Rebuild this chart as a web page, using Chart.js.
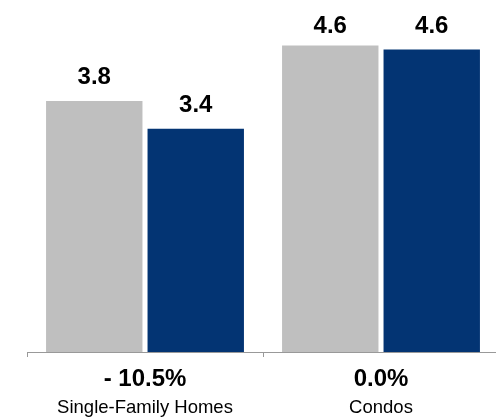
<!DOCTYPE html>
<html>
<head>
<meta charset="utf-8">
<script src="https://cdn.jsdelivr.net/npm/chart.js@4.4.1/dist/chart.umd.min.js"></script>
<style>
  html, body { margin: 0; padding: 0; background: #fff; overflow: hidden; }
  #wrap { width: 499px; height: 417px; }
</style>
</head>
<body>
<div id="wrap"><canvas id="chart"></canvas></div>
<script>
const categories = ['Single-Family Homes', 'Condos'];
const changeLabels = ['- 10.5%', '0.0%'];
const priorValues = [3.8, 4.64];
const currentValues = [3.38, 4.58];

// draws the value above each bar and the two-line category labels
const labelPlugin = {
  id: 'labels',
  afterDraw(chart) {
    const ctx = chart.ctx;
    ctx.save();
    ctx.fillStyle = '#000';
    ctx.textAlign = 'center';
    ctx.textBaseline = 'alphabetic';
    ctx.font = 'bold 24px "Liberation Sans", Arial, sans-serif';
    chart.data.datasets.forEach((ds, i) => {
      chart.getDatasetMeta(i).data.forEach((bar, j) => {
        ctx.fillText(ds.data[j].toFixed(1), bar.x, Math.max(bar.y - 17, 33));
      });
    });
    const xScale = chart.scales.x;
    categories.forEach((cat, j) => {
      const x = xScale.getPixelForValue(j);
      ctx.font = 'bold 24px "Liberation Sans", Arial, sans-serif';
      ctx.fillText(changeLabels[j], x, 386);
      ctx.font = '18.5px "Liberation Sans", Arial, sans-serif';
      ctx.fillText(cat, x, 413);
    });
    ctx.restore();
  }
};

new Chart(document.getElementById('chart'), {
  type: 'bar',
  data: {
    labels: categories,
    datasets: [
      {
        label: 'Prior',
        data: priorValues,
        backgroundColor: '#bfbfbf',
        barPercentage: 0.95,
        categoryPercentage: 0.86
      },
      {
        label: 'Current',
        data: currentValues,
        backgroundColor: '#033473',
        barPercentage: 0.95,
        categoryPercentage: 0.86
      }
    ]
  },
  options: {
    responsive: true,
    maintainAspectRatio: false,
    animation: false,
    layout: { padding: { left: 27, top: 0, right: 0, bottom: 0 } },
    plugins: {
      legend: { display: false },
      tooltip: { enabled: false }
    },
    scales: {
      x: {
        grid: {
          display: true,
          drawOnChartArea: false,
          offset: true,
          tickLength: 5,
          color: '#999'
        },
        border: { display: true, color: '#999', width: 1 },
        ticks: { display: false },
        afterFit(scale) { scale.height = 65; }
      },
      y: {
        display: false,
        min: 0,
        max: 5.33
      }
    }
  },
  plugins: [labelPlugin]
});
</script>
</body>
</html>
